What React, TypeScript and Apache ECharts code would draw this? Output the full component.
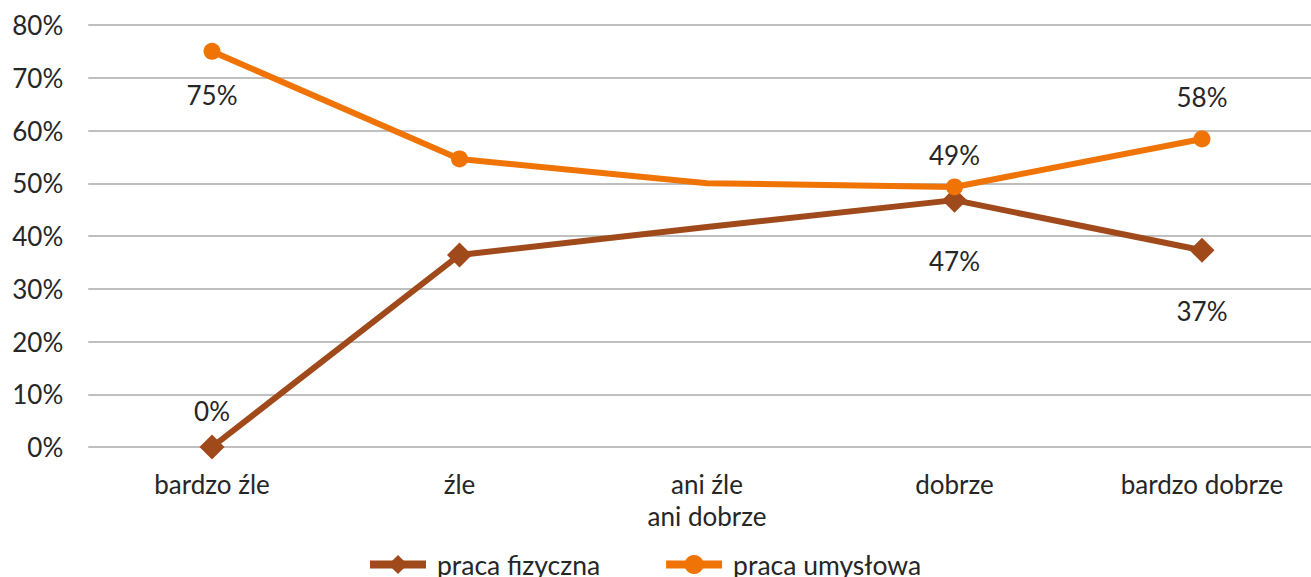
import React, { useEffect, useRef } from "react";
import * as echarts from "echarts";

const categories = ["bardzo źle", "źle", "ani źle\nani dobrze", "dobrze", "bardzo dobrze"];
const fizyczna = [0, 36.4, 41.7, 46.8, 37.3];
const umyslowa = [75, 54.6, 50, 49.3, 58.4];
// label placement for each point: null = no label
const fizycznaLabels: (null | { pos: "top" | "bottom"; dist: number })[] = [
  { pos: "top", dist: 11 },
  null,
  null,
  { pos: "bottom", dist: 35 },
  { pos: "bottom", dist: 35 },
];
const umyslowaLabels: (null | { pos: "top" | "bottom"; dist: number })[] = [
  { pos: "bottom", dist: 22 },
  null,
  null,
  { pos: "top", dist: 10 },
  { pos: "top", dist: 20 },
];
const hiddenMarker = [false, false, true, false, false];

const FONT = "Lato, 'Open Sans', sans-serif";
const TEXT = "#262626";
const ORANGE = "#F07305";
const BROWN = "#A04A1B";
const FS = 26;
const LFS = 26.5;

function buildData(values: number[], labels: any[]) {
  return values.map((v, i) => {
    const item: any = { value: v };
    if (hiddenMarker[i]) item.symbol = "none";
    const l = labels[i];
    if (l) {
      item.label = { show: true, position: l.pos, distance: l.dist };
    } else {
      item.label = { show: false };
    }
    return item;
  });
}

export default function App() {
  const ref = useRef<HTMLDivElement>(null);
  useEffect(() => {
    document.body.style.margin = "0";
    document.body.style.overflow = "hidden";
    const chart = echarts.init(ref.current!, null, { renderer: "svg" });
    const labelStyle = {
      color: TEXT,
      fontSize: FS,
      fontFamily: FONT,
      formatter: (p: any) => Math.round(p.value) + "%",
    };
    chart.setOption({
      animation: false,
      textStyle: { fontFamily: FONT },
      grid: { left: 88.25, top: 25, width: 1237.5, height: 422 },
      xAxis: {
        type: "category",
        data: categories,
        boundaryGap: true,
        axisLine: { show: false },
        axisTick: { show: false },
        axisLabel: {
          color: TEXT,
          fontSize: FS,
          fontFamily: FONT,
          lineHeight: 32,
          margin: 21,
          interval: 0,
        },
      },
      yAxis: {
        type: "value",
        min: 0,
        max: 80,
        interval: 10,
        axisLine: { show: false },
        axisTick: { show: false },
        axisLabel: {
          color: TEXT,
          fontSize: FS,
          fontFamily: FONT,
          margin: 25,
          formatter: "{value}%",
        },
        splitLine: { lineStyle: { color: "#BFBFBF", width: 2 } },
      },
      legend: {
        left: 366,
        top: 551,
        padding: 0,
        itemWidth: 56,
        itemHeight: 24,
        itemGap: 62,
        lineStyle: { width: 8 },
        textStyle: {
          color: TEXT,
          fontSize: LFS,
          fontFamily: FONT,
          padding: [0, 0, 0, 6],
        },
        data: ["praca fizyczna", "praca umysłowa"],
      },
      series: [
        {
          name: "praca fizyczna",
          type: "line",
          data: buildData(fizyczna, fizycznaLabels),
          symbol: "diamond",
          symbolSize: 25,
          lineStyle: { color: BROWN, width: 6 },
          itemStyle: { color: BROWN },
          label: labelStyle,
          z: 2,
        },
        {
          name: "praca umysłowa",
          type: "line",
          data: buildData(umyslowa, umyslowaLabels),
          symbol: "circle",
          symbolSize: 17,
          lineStyle: { color: ORANGE, width: 6 },
          itemStyle: { color: ORANGE },
          label: labelStyle,
          z: 3,
        },
      ],
    });
    return () => chart.dispose();
  }, []);
  return <div ref={ref} style={{ width: 1330, height: 577 }} />;
}
